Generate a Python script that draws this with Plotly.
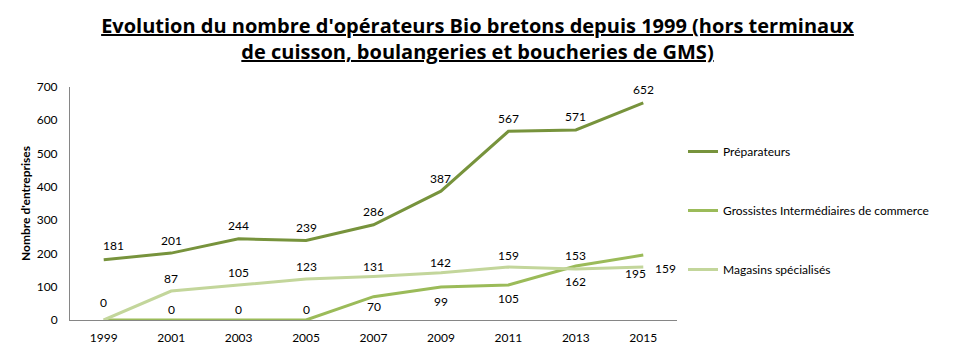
import plotly.graph_objects as go

years = ["1999", "2001", "2003", "2005", "2007", "2009", "2011", "2013", "2015"]
preparateurs = [181, 201, 244, 239, 286, 387, 567, 571, 652]
grossistes = [0, 0, 0, 0, 70, 99, 105, 162, 195]
magasins = [0, 87, 105, 123, 131, 142, 159, 153, 159]
names = ["Préparateurs", "Grossistes Intermédiaires de commerce", "Magasins spécialisés"]
y_ticks = [0, 100, 200, 300, 400, 500, 600, 700]

title_text = ("Evolution du nombre d'opérateurs Bio bretons depuis 1999 (hors terminaux"
              "<br>de cuisson, boulangeries et boucheries de GMS)")

colors = ["#77933C", "#9BBB59", "#C3D69B"]
FONT = "Lato"

# label placement style per point: (xshift, yshift)
up = (0, 13)
prep_pos = [(10, 14)] + [up] * 8
gros_pos = [None, (0, 11), (0, 11), (0, 11), (0, -10), (0, -14), (0, -13), (0, -15), (-8, -18)]
mag_pos = [(0, 18), up, up, up, (0, 10), (0, 10), (0, 12), (0, 14), (22, -1)]

fig = go.Figure()
series = [preparateurs, grossistes, magasins]
for i, vals in enumerate(series):
    fig.add_trace(go.Scatter(
        x=years, y=vals, mode="lines", name=names[i],
        line=dict(color=colors[i], width=3),
        legendgroup=f"g{i}",
    ))

annotations = []
for vals, pos in zip(series, [prep_pos, gros_pos, mag_pos]):
    for idx, (v, p) in enumerate(zip(vals, pos)):
        if p is None:
            continue
        annotations.append(dict(
            x=idx, y=v, xref="x", yref="y", text=str(v), showarrow=False,
            xshift=p[0], yshift=p[1], font=dict(family=FONT, size=12, color="#000000"),
        ))

fig.update_layout(
    width=955, height=354,
    margin=dict(l=70, r=278, t=87, b=34),
    paper_bgcolor="white", plot_bgcolor="white",
    font=dict(family=FONT, size=12, color="#000000"),
    title=dict(
        text=title_text, x=0.5, xanchor="center", xref="container",
        y=1 - 33 / 354, yanchor="top", yref="container",
        font=dict(family="Open Sans", size=20, color="#000000", weight="bold", lineposition="under"),
    ),
    xaxis=dict(
        type="category", range=[-0.5, 8.5], showgrid=False, zeroline=False,
        showline=True, linecolor="#868686", linewidth=1, ticks="",
        ticklabelstandoff=7, automargin=False,
        tickfont=dict(family=FONT, size=12, color="#000000"),
    ),
    yaxis=dict(
        range=[0, 700], tickvals=y_ticks, showgrid=False, zeroline=False,
        showline=True, linecolor="#868686", linewidth=1, ticks="",
        ticklabelstandoff=9, automargin=False,
        tickfont=dict(family=FONT, size=12, color="#000000"),
        title=dict(text="<b>Nombre d'entreprises</b>", standoff=3,
                   font=dict(family=FONT, size=12, color="#000000")),
    ),
    legend=dict(
        x=(683 - 70) / 607, xanchor="left", y=(320 - 137) / 233, yanchor="top",
        traceorder="grouped", tracegroupgap=40, bgcolor="rgba(0,0,0,0)",
        font=dict(family=FONT, size=12, color="#000000"),
    ),
    annotations=annotations,
)

fig.write_html("out.html")
